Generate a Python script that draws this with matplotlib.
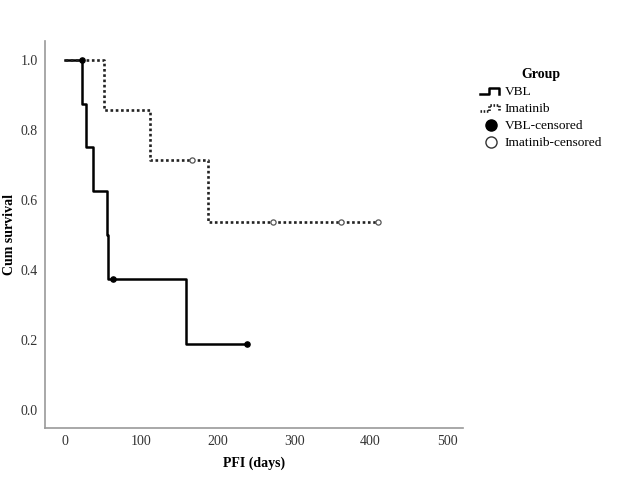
import matplotlib
matplotlib.use("Agg")
import matplotlib.pyplot as plt
from matplotlib.legend_handler import HandlerBase
from matplotlib.lines import Line2D

plt.rcParams['font.family'] = ['Liberation Serif', 'DejaVu Serif']

# Kaplan-Meier step data
vbl_t = [0, 23, 28, 37, 55, 57, 158, 238]
vbl_s = [1.0, 0.875, 0.75, 0.625, 0.5, 0.375, 0.1875, 0.1875]
vbl_cens_t = [22, 63, 238]
vbl_cens_s = [1.0, 0.375, 0.1875]

ima_t = [0, 51, 111, 187, 410]
ima_s = [1.0, 0.857, 0.714, 0.536, 0.536]
ima_cens_t = [166, 272, 361, 410]
ima_cens_s = [0.714, 0.536, 0.536, 0.536]

x_ticks = [0, 100, 200, 300, 400, 500]
y_ticks = [0.0, 0.2, 0.4, 0.6, 0.8, 1.0]


class StepHandler(HandlerBase):
    # draws a little step glyph like SPSS legends
    def create_artists(self, legend, orig_handle, xdescent, ydescent,
                       width, height, fontsize, trans):
        w, h = width, height
        xs = [0, 0.4 * w, 0.4 * w, 0.85 * w, 0.85 * w]
        ys = [0.1 * h, 0.1 * h, 0.8 * h, 0.8 * h, 0.1 * h]
        ls = orig_handle.get_linestyle()
        ln = Line2D([x - xdescent for x in xs], [y - ydescent for y in ys],
                    color=orig_handle.get_color(),
                    linestyle='-' if ls == '-' else (0, (0.6, 0.6)),
                    linewidth=orig_handle.get_linewidth(),
                    transform=trans)
        return [ln]


fig = plt.figure(figsize=(6.44, 4.84), dpi=100)
ax = fig.add_axes([0.0699, 0.1157, 0.6491, 0.7996])

l1, = ax.step(vbl_t, vbl_s, where='post', color='black', lw=1.8, label='VBL')
l2, = ax.step(ima_t, ima_s, where='post', color='#222222', lw=1.9,
              linestyle=(0, (1, 1)), label='Imatinib')
c1 = ax.scatter(vbl_cens_t, vbl_cens_s, s=14, color='black', zorder=3,
                label='VBL-censored')
c2 = ax.scatter(ima_cens_t, ima_cens_s, s=14, facecolor='white',
                edgecolor='#555555', linewidths=0.9, zorder=3,
                label='Imatinib-censored')

ax.set_xlim(-26, 521)
ax.set_ylim(-0.051, 1.054)
ax.set_xticks(x_ticks)
ax.set_yticks(y_ticks)
ax.set_yticklabels([f"{v:.1f}" for v in y_ticks])
ax.tick_params(length=0, labelsize=10, colors='#333333', pad=5)
for s in ['top', 'right']:
    ax.spines[s].set_visible(False)
for s in ['left', 'bottom']:
    ax.spines[s].set_color('#999999')
    ax.spines[s].set_linewidth(1.2)

ax.set_xlabel('PFI (days)', fontsize=10, fontweight='bold', labelpad=6)
ax.set_ylabel('Cum survival', fontsize=10, fontweight='bold')
ax.yaxis.set_label_coords(-0.07, 0.5)

leg_handles = [l1, l2,
               Line2D([], [], marker='o', color='none', markerfacecolor='black',
                      markeredgecolor='black', markersize=8),
               Line2D([], [], marker='o', color='none', markerfacecolor='white',
                      markeredgecolor='#333333', markersize=8)]
leg = fig.legend(leg_handles, ['VBL', 'Imatinib', 'VBL-censored', 'Imatinib-censored'],
                 handler_map={l1: StepHandler(), l2: StepHandler()},
                 loc='upper left', bbox_to_anchor=(0.737, 0.87),
                 frameon=False, fontsize=9.6, title='Group',
                 title_fontproperties={'weight': 'bold', 'size': 10},
                 handlelength=1.7, handletextpad=0.15, labelspacing=0.35,
                 borderaxespad=0)

fig.savefig('out.png', dpi=100)
